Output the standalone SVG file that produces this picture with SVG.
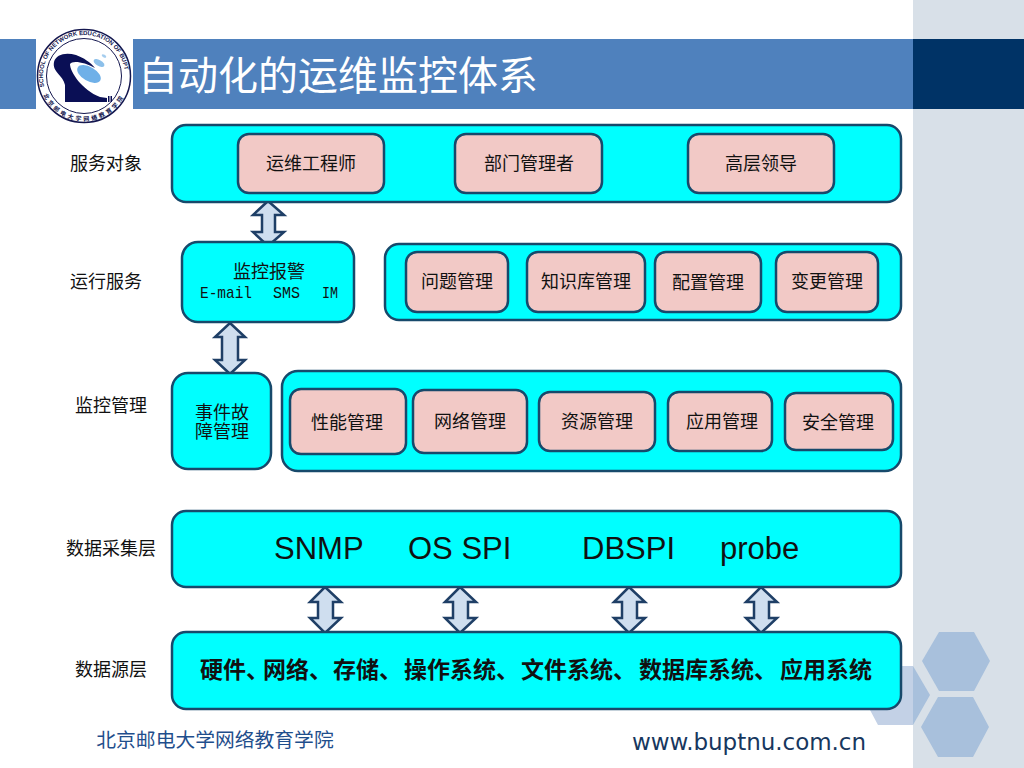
<svg xmlns="http://www.w3.org/2000/svg" width="1024" height="768" viewBox="0 0 1024 768">
<style>
text{font-family:"Noto Sans CJK SC","Liberation Sans",sans-serif;fill:#111;text-anchor:middle}
.panel{fill:#00ffff;stroke:#17496b;stroke-width:2.5}
.node{fill:#f2c9c6;stroke:#17496b;stroke-width:2.5}
.arr{fill:#cfdeef;stroke:#1f3f66;stroke-width:2.5;stroke-linejoin:miter}
.lab{font-size:18px}
.hex{fill:#a8c0dc}
.mono{font-size:17px;font-family:"Liberation Mono",monospace;text-anchor:start}
.big{font-family:"Liberation Sans",sans-serif;font-size:31px;text-anchor:start}
.src{font-size:23px;font-weight:700;text-anchor:start}
.ring{font-weight:700;fill:#14174f;text-anchor:start}
</style>
<g id="background">
<rect width="1024" height="768" fill="#fff"/>
<rect x="913" width="111" height="768" fill="#d8e0e8"/>
<rect y="39" width="913" height="70" fill="#4f81bd"/>
<rect x="913" y="39" width="111" height="70" fill="#003366"/>
<polygon points="878,666 913,666 913,725 878,725 862,695" fill="#c3d1e6"/>
<polygon class="hex" points="913,666 930,695 913,725"/>
<polygon class="hex" points="939,632 974,632 990,661 974,691 939,691 922,661"/>
<polygon class="hex" points="938,697 973,697 989,727 973,757 938,757 921,727"/>
</g>
<g id="logo">
<rect x="36" y="28" width="97" height="99" fill="#fff"/>
<circle cx="84" cy="76" r="46.5" fill="none" stroke="#14174f" stroke-width="1.5"/>
<circle cx="84" cy="76" r="37.5" fill="none" stroke="#14174f" stroke-width="1"/>
<path d="M65 102 L65 85 C63 75 52 72 54 62 C56 54 66 52 76 55 C84 58 90 62 95 68 C85 62 72 60 70 64 C70 72 82 90 100 97 L107 98 L107 102 Z" fill="#0a0f55"/>
<rect x="108" y="96" width="1.5" height="6" fill="#0a0f55"/><rect x="110.5" y="96" width="1.5" height="6" fill="#0a0f55"/>
<ellipse cx="89" cy="74" rx="13" ry="7" transform="rotate(30 89 74)" fill="#6fb0e8"/>
<ellipse cx="99" cy="63" rx="6" ry="3" transform="rotate(30 99 63)" fill="#8cc0ea"/>
<ellipse cx="104" cy="56" rx="2.5" ry="1.3" transform="rotate(30 104 56)" fill="#a5cdee"/>
<defs>
<path id="logoTop" d="M44.4 86.6 A41 41 0 1 1 123.6 86.6"/>
<path id="logoBot" d="M43.2 95 A45 45 0 0 0 124.8 95"/>
</defs>
<text class="ring" style="font-size:6px;font-family:'Liberation Sans',sans-serif"><textPath href="#logoTop">SCHOOL OF NETWORK EDUCATION OF BUPT</textPath></text>
<text class="ring" style="font-size:6px;letter-spacing:2.4px"><textPath href="#logoBot">北京邮电大学网络教育学院</textPath></text>
</g>
<text id="title" x="338" y="90" style="font-size:40px;fill:#fff">自动化的运维监控体系</text>
<g id="connectors">
<polygon class="arr" points="268,201 284,215 275,215 275,232 284,232 268,246 253,232 262,232 262,215 253,215"/>
<polygon class="arr" points="230,323 245,337 238,337 238,360 245,360 230,374 215,360 222,360 222,337 215,337"/>
<polygon class="arr" points="325,587 341,602 333,602 333,618 341,618 325,633 310,618 318,618 318,602 310,602"/>
<polygon class="arr" points="460,587 476,602 468,602 468,618 476,618 460,633 445,618 453,618 453,602 445,602"/>
<polygon class="arr" points="629,587 645,602 637,602 637,618 645,618 629,633 614,618 622,618 622,602 614,602"/>
<polygon class="arr" points="761,587 777,602 769,602 769,618 777,618 761,633 746,618 754,618 754,602 746,602"/>
</g>
<g id="row-labels">
<text class="lab" x="106" y="170">服务对象</text>
<text class="lab" x="106" y="288">运行服务</text>
<text class="lab" x="111" y="412">监控管理</text>
<text class="lab" x="111" y="555">数据采集层</text>
<text class="lab" x="111" y="676">数据源层</text>
</g>
<g id="service-panel"><rect class="panel" x="172" y="125" width="729" height="77" rx="14"/></g>
<g id="ops-panel"><rect class="panel" x="385" y="244" width="516" height="76" rx="14"/></g>
<g id="monitor-panel"><rect class="panel" x="282" y="371" width="619" height="100" rx="16"/></g>
<g id="n-engineer"><rect class="node" x="238" y="134" width="146" height="59" rx="11"/><text class="lab" x="311" y="170">运维工程师</text></g>
<g id="n-dept"><rect class="node" x="455" y="134" width="147" height="59" rx="11"/><text class="lab" x="529" y="170">部门管理者</text></g>
<g id="n-leader"><rect class="node" x="688" y="134" width="146" height="59" rx="11"/><text class="lab" x="761" y="170">高层领导</text></g>
<g id="n-alarm"><rect class="panel" x="182" y="242" width="172" height="80" rx="16"/><text class="lab" x="269" y="278">监控报警</text>
<text class="mono" x="200" y="298" textLength="52" lengthAdjust="spacingAndGlyphs">E-mail</text><text class="mono" x="273" y="298" textLength="27" lengthAdjust="spacingAndGlyphs">SMS</text><text class="mono" x="322" y="298" textLength="16" lengthAdjust="spacingAndGlyphs">IM</text></g>
<g id="n-problem"><rect class="node" x="406" y="252" width="102" height="60" rx="11"/><text class="lab" x="457" y="288">问题管理</text></g>
<g id="n-kb"><rect class="node" x="527" y="252" width="118" height="60" rx="11"/><text class="lab" x="586" y="288">知识库管理</text></g>
<g id="n-config"><rect class="node" x="655" y="252" width="106" height="60" rx="11"/><text class="lab" x="708" y="289">配置管理</text></g>
<g id="n-change"><rect class="node" x="776" y="252" width="102" height="60" rx="11"/><text class="lab" x="827" y="288">变更管理</text></g>
<g id="n-event"><rect class="panel" x="172" y="373" width="99" height="96" rx="16"/><text style="font-size:18px"><tspan x="222" y="419">事件故</tspan><tspan x="222" y="438">障管理</tspan></text></g>
<g id="n-perf"><rect class="node" x="290" y="389" width="116" height="65" rx="11"/><text class="lab" x="347" y="429">性能管理</text></g>
<g id="n-net"><rect class="node" x="413" y="390" width="114" height="63" rx="11"/><text class="lab" x="470" y="428">网络管理</text></g>
<g id="n-res"><rect class="node" x="539" y="392" width="116" height="59" rx="11"/><text class="lab" x="597" y="428">资源管理</text></g>
<g id="n-app"><rect class="node" x="668" y="392" width="104" height="59" rx="11"/><text class="lab" x="722" y="428">应用管理</text></g>
<g id="n-sec"><rect class="node" x="785" y="393" width="108" height="57" rx="11"/><text class="lab" x="838" y="429">安全管理</text></g>
<g id="collect-layer"><rect class="panel" x="172" y="511" width="729" height="76" rx="14"/>
<text class="big" x="274" y="559">SNMP</text><text class="big" x="408" y="559">OS SPI</text><text class="big" x="582" y="559">DBSPI</text><text class="big" x="720" y="559">probe</text></g>
<g id="source-layer"><rect class="panel" x="172" y="632" width="729" height="77" rx="14"/>
<text class="src" x="200" y="678">硬件、</text><text class="src" x="263" y="678">网络、</text><text class="src" x="333" y="678">存储、</text><text class="src" x="404" y="678">操作系统、</text><text class="src" x="521" y="678">文件系统、</text><text class="src" x="639" y="678">数据库系统、</text><text class="src" x="780" y="678">应用系统</text></g>
<g id="footer"><text x="215" y="747" style="font-size:19.8px;fill:#1f4e8c">北京邮电大学网络教育学院</text>
<text x="749" y="750" style="font-size:23px;font-family:'DejaVu Sans',sans-serif;fill:#17375e" textLength="234">www.buptnu.com.cn</text></g>
</svg>
